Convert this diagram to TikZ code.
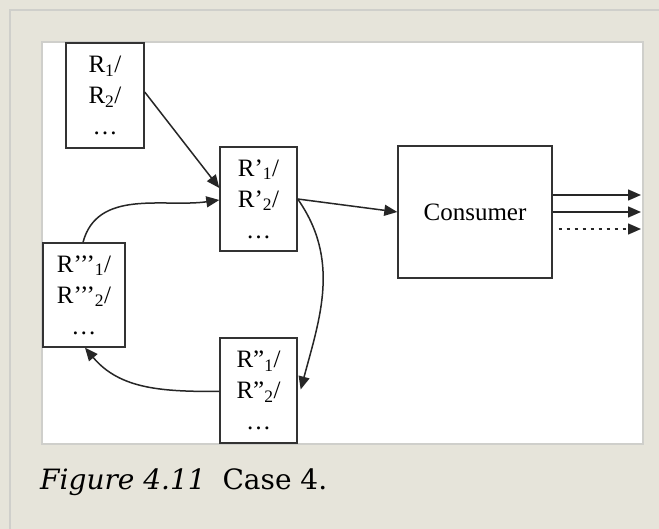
\documentclass[tikz,border=0pt]{standalone}
\usepackage{fontspec}
\setmainfont{Liberation Serif}
\newfontfamily\capfont{DejaVu Serif}
\usetikzlibrary{arrows.meta}
\definecolor{pagebg}{HTML}{E6E4DA}
\definecolor{framegray}{HTML}{CFCFCB}
\definecolor{inkgray}{HTML}{333333}
\tikzset{
  box/.style={draw=inkgray, line width=1.4pt, fill=white, align=center,
    inner sep=0pt, font=\fontsize{25}{31}\selectfont},
  arr/.style={draw=black!85, line width=1.5pt,
    -{Triangle[length=13pt,width=11pt]}},
}
\begin{document}
\begin{tikzpicture}[x=1pt,y=-1pt]
  % page and panel
  \fill[pagebg] (0,0) rectangle (659,529);
  \useasboundingbox (0,0) rectangle (659,529);
  \draw[framegray, line width=2pt] (10,529) -- (10,10) -- (659,10);
  \draw[framegray, line width=1.5pt, fill=white] (42,42) rectangle (643,444);

  % resource boxes
  \node[box, minimum width=78pt, minimum height=105pt] (r1) at (105,95.5)
    {R\textsubscript{1}/\\R\textsubscript{2}/\\…};
  \node[box, minimum width=77pt, minimum height=104pt] (rp) at (258.5,199)
    {R’\textsubscript{1}/\\R’\textsubscript{2}/\\…};
  \node[box, minimum width=82pt, minimum height=104pt] (rppp) at (84,295)
    {R’’’\textsubscript{1}/\\R’’’\textsubscript{2}/\\…};
  \node[box, minimum width=77pt, minimum height=105pt] (rpp) at (258.5,390.5)
    {R”\textsubscript{1}/\\R”\textsubscript{2}/\\…};
  \node[box, minimum width=154pt, minimum height=132pt] (cons) at (475,212)
    {Consumer};

  % outputs of the consumer
  \coordinate (o1) at (641,195);
  \coordinate (o2) at (641,212);
  \coordinate (o3) at (641,229);

  % connectors
  \draw[arr] ([yshift=3.5pt]r1.east) -- ([yshift=11pt]rp.west);
  \draw[arr] ([xshift=-1pt]rppp.north) to[out=75,in=188] ([yshift=-1pt]rp.west);
  \draw[arr] (rp.east) -- (cons.west);
  \draw[arr] (rp.east) to[out=-55,in=75] ([yshift=1pt,xshift=3pt]rpp.east);
  \draw[arr] ([yshift=-1pt]rpp.west) to[out=180,in=-50] ([xshift=1pt]rppp.south);
  \draw[arr] (cons.east |- o1) -- (o1);
  \draw[arr] (cons.east |- o2) -- (o2);
  \draw[arr, dash pattern=on 3pt off 5pt] ([xshift=6pt]cons.east |- o3) -- (o3);

  % caption
  \node[anchor=west, inner sep=0pt, font=\capfont\fontsize{28}{32}\selectfont]
    (cap) at (40,482) {\textit{Figure 4.11}\hspace{0.6em}Case 4.};
\end{tikzpicture}
\end{document}
